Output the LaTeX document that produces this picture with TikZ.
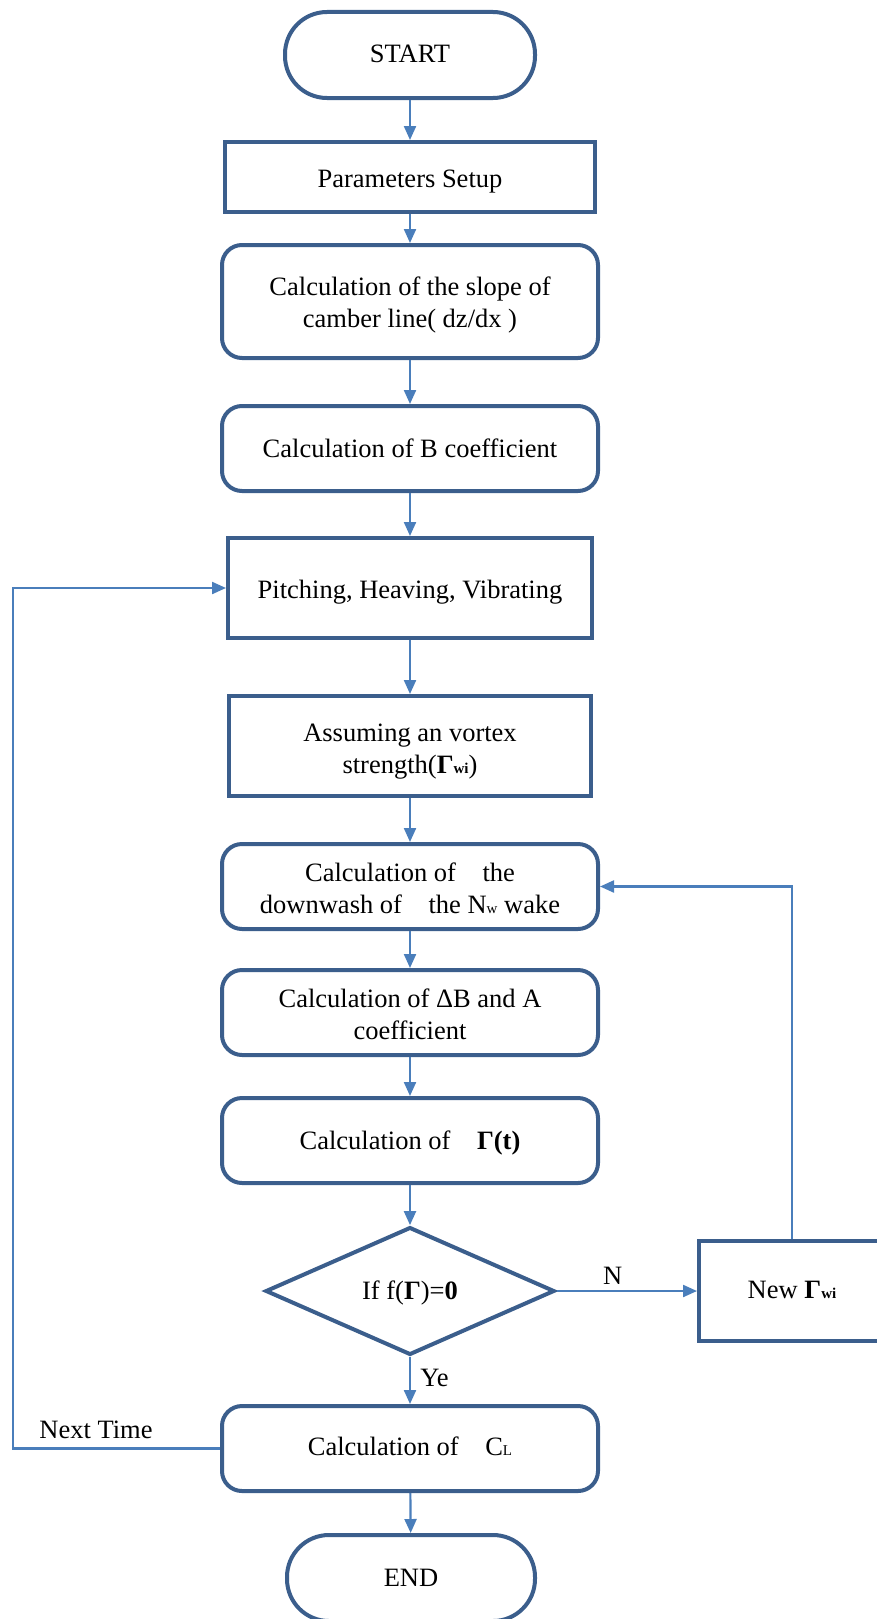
\documentclass[tikz,border=0pt]{standalone}
\usepackage{fontspec}
\setmainfont{Liberation Serif}
\usetikzlibrary{arrows.meta,shapes.geometric}
\definecolor{boxblue}{HTML}{3B5E8C}
\definecolor{lineblue}{HTML}{4A7EBB}
\newcommand{\lowsub}[1]{{\fontsize{15}{15}\selectfont #1}}
\newcommand{\dn}[2][4pt]{\raisebox{-#1}[\height][\depth]{\begin{tabular}{@{}c@{}}#2\end{tabular}}}
\tikzset{
  stepbox/.style={draw=boxblue, line width=4pt, fill=white, align=center, inner sep=0pt},
  roundbox/.style={stepbox, rounded corners=20pt},
  termbox/.style={stepbox, rounded corners=42pt, minimum width=250pt, minimum height=86pt},
  flow/.style={draw=lineblue, line width=2.2pt, -{Triangle[length=14pt,width=12pt]}}
}

\begin{document}
\begin{tikzpicture}[x=1pt,y=-1pt, font=\fontsize{26.5}{32}\selectfont]
\useasboundingbox (0,0) rectangle (877,1619);
\node[termbox] (start) at (410,55) {\dn[1pt]{START}};
\node[stepbox, minimum width=370pt, minimum height=70pt] (params) at (410,177) {\dn{Parameters Setup}};
\node[roundbox, minimum width=376pt, minimum height=113pt] (slope) at (410,301.5) {\dn{Calculation of the slope of\\camber line( dz/dx )}};
\node[roundbox, minimum width=376pt, minimum height=85pt] (bcoef) at (410,448.5) {\dn[3pt]{Calculation of B coefficient}};
\node[stepbox, minimum width=364pt, minimum height=100pt] (pitch) at (410,588) {\dn{Pitching, Heaving, Vibrating}};
\node[stepbox, minimum width=362pt, minimum height=100pt] (assume) at (410,746) {\dn[5pt]{Assuming an vortex\\strength(\textbf{Γ\lowsub{wi}})}};
\node[roundbox, minimum width=376pt, minimum height=85pt] (down) at (410,886.5) {\dn[5pt]{Calculation of\quad the\\downwash of\quad the N\lowsub{w} wake}};
\node[roundbox, minimum width=376pt, minimum height=85pt] (dab) at (410,1012.5) {\dn[5pt]{Calculation of ΔB and A\\coefficient}};
\node[roundbox, minimum width=376pt, minimum height=85pt] (gam) at (410,1140.5) {\dn[3pt]{Calculation of\quad\textbf{Γ(t)}}};
\node[stepbox, diamond, minimum width=289pt, minimum height=126pt] (check) at (410,1291) {\dn[2pt]{If f(\textbf{Γ})=\textbf{0}}};
\node[stepbox, minimum width=186pt, minimum height=100pt] (newg) at (792,1291) {\dn[1pt]{New \textbf{Γ\lowsub{wi}}}};
\node[roundbox, minimum width=376pt, minimum height=85pt] (cl) at (410,1448.5) {\dn[1pt]{Calculation of\quad C\lowsub{L}}};
\node[termbox, minimum width=248pt] (end) at (411,1578) {\dn[2pt]{END}};
\coordinate (back) at (13,1448.5);
\draw[flow] (start) -- (params);
\draw[flow] (params) -- (slope);
\draw[flow] (slope) -- (bcoef);
\draw[flow] (bcoef) -- (pitch);
\draw[flow] (pitch) -- (assume);
\draw[flow] (assume) -- (down);
\draw[flow] (down) -- (dab);
\draw[flow] (dab) -- (gam);
\draw[flow] (gam) -- (check);
\draw[flow] (check) -- node[above=2pt, pos=0.4] (nlabel) {N} (newg);
\draw[flow] (check) -- node[right=6pt, pos=0.45] (ylabel) {Ye} (cl);
\draw[flow] (cl) -- (end);
\draw[flow] (newg.north) |- (down.east);
\draw[flow] (cl.west) -- (back) |- (pitch.west);
\node (nextlabel) at (96,1430) {Next Time};
\end{tikzpicture}
\end{document}
